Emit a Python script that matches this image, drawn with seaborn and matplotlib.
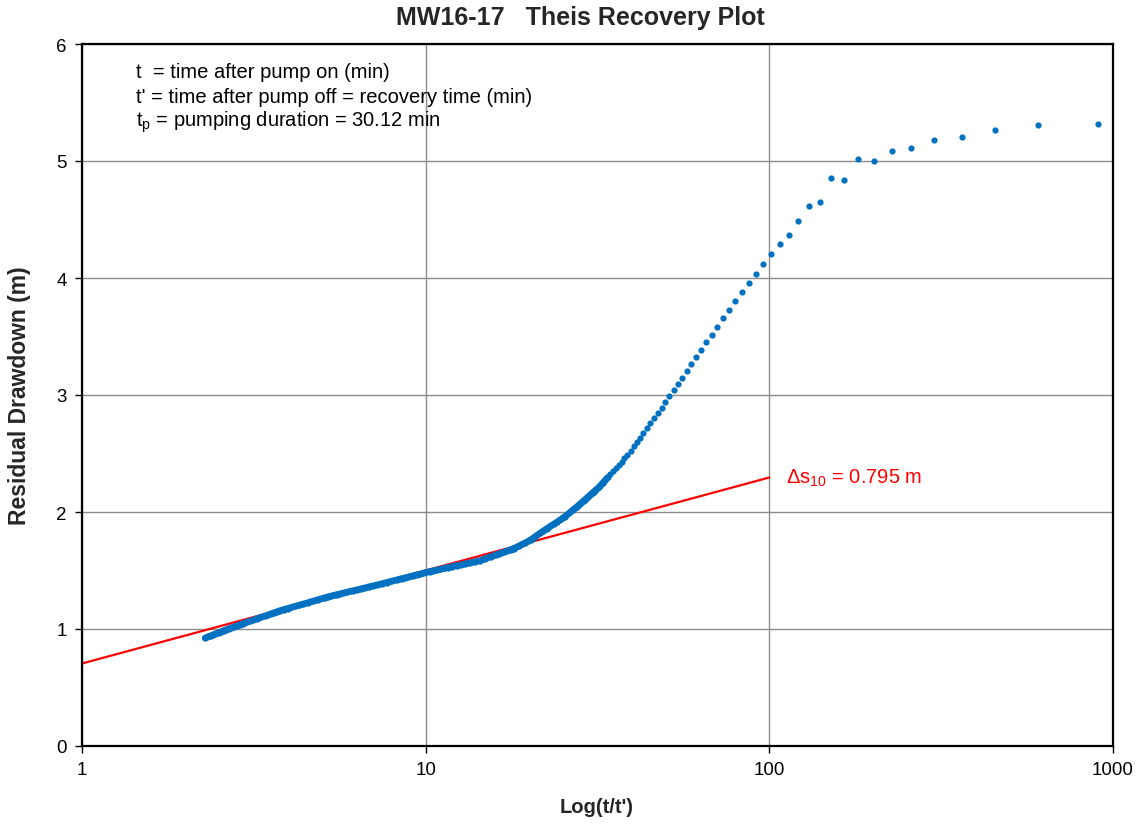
import numpy as np
import pandas as pd
import matplotlib
matplotlib.use("Agg")
import matplotlib.pyplot as plt
import seaborn as sns
from matplotlib.ticker import FixedLocator, NullLocator, FuncFormatter

# Pumping test MW16-17: pump ran for 30.12 min, then recovery was logged.
pumping_min = 30.12

# Recovery time after pump off (s)
recovery_s = [
    2, 3, 4, 5, 6, 7, 8, 9, 10, 11, 12, 13, 14, 15, 16, 17,
    18, 19, 20, 21, 22, 23, 24, 25, 26, 27, 28, 29, 30, 31, 32, 33,
    34, 35, 36, 37, 38, 39, 40, 41, 42, 43, 44, 45, 46, 47, 48, 49,
    50, 51, 52, 53, 54, 55, 56, 57, 58, 59, 60, 61, 62, 63, 64, 65,
    66, 67, 68, 69, 70,
    72, 74, 76, 78, 80, 82, 84, 86, 88, 90, 92, 94, 96, 98, 100,
    102, 104, 106, 108, 110, 112, 114, 116, 118, 120,
    125, 130, 135, 140, 145, 150, 155, 160, 165, 170, 175, 180, 185,
    190, 195, 200, 205, 210, 215, 220, 225, 230, 235, 240, 245, 250,
    260, 270, 280, 290, 300, 310, 320, 330, 340, 350, 360, 370, 380,
    390, 400, 410, 420, 430, 440, 450,
    470, 490, 510, 530, 550, 570, 590, 610, 630, 650, 670, 690, 710,
    730, 750,
    780, 810, 840, 870, 900, 930, 960, 990, 1020, 1050, 1080, 1110,
    1140, 1170, 1200, 1230, 1260, 1290, 1320, 1350, 1380, 1410,
]

# Residual drawdown (m)
drawdown_m = [
    5.319, 5.305, 5.268, 5.205, 5.182, 5.109, 5.088, 5.000, 5.017, 4.838,
    4.857, 4.647, 4.615, 4.490, 4.370, 4.291,
    4.205, 4.120, 4.037, 3.957, 3.877, 3.801, 3.726, 3.655, 3.584, 3.515,
    3.450, 3.387, 3.325, 3.262, 3.205, 3.148,
    3.094, 3.040, 2.991, 2.937, 2.892, 2.846, 2.803, 2.761, 2.718, 2.675,
    2.636, 2.598, 2.560, 2.524, 2.490, 2.458,
    2.428, 2.401, 2.374, 2.348, 2.321, 2.295, 2.270, 2.245, 2.221, 2.201,
    2.183, 2.165, 2.147, 2.129, 2.112, 2.095,
    2.078, 2.062, 2.046, 2.031, 2.017,
    1.988, 1.961, 1.937, 1.916, 1.896, 1.877, 1.857, 1.838, 1.819, 1.800,
    1.781, 1.763, 1.748, 1.735, 1.723,
    1.711, 1.699, 1.688, 1.679, 1.671, 1.663, 1.656, 1.649, 1.641, 1.634,
    1.617, 1.601, 1.584, 1.575, 1.566, 1.557, 1.549, 1.541, 1.533, 1.525,
    1.518, 1.510, 1.503,
    1.497, 1.490, 1.484, 1.476, 1.469, 1.463, 1.456, 1.449, 1.443, 1.437,
    1.431, 1.425, 1.419,
    1.408, 1.397, 1.387, 1.377, 1.368, 1.360, 1.351, 1.343, 1.335, 1.328,
    1.321, 1.314, 1.307,
    1.300, 1.294, 1.288, 1.282, 1.275, 1.268, 1.262,
    1.249, 1.237, 1.225, 1.214, 1.204, 1.194, 1.184, 1.175, 1.166, 1.158,
    1.148, 1.139, 1.129,
    1.120, 1.112,
    1.100, 1.088, 1.076, 1.066, 1.056, 1.046, 1.037, 1.028, 1.019, 1.011,
    1.003, 0.994,
    0.986, 0.978, 0.970, 0.963, 0.956, 0.949, 0.942, 0.936, 0.930, 0.923,
]

# Straight-line fit of the late recovery data
fit_intercept_m = 0.705
delta_s10_m = 0.795
fit_ratio = [1, 100]

x_ticks = [1, 10, 100, 1000]
y_ticks = [0, 1, 2, 3, 4, 5, 6]

BLUE = "#0070C0"
RED = "#FF0000"
GRID = "#8C8C8C"

df = pd.DataFrame({"t_rec_s": recovery_s, "s": drawdown_m})
df["ratio"] = (pumping_min * 60.0 + df["t_rec_s"]) / df["t_rec_s"]
dense = df[df["t_rec_s"] >= 55]

fit = pd.DataFrame({"ratio": fit_ratio})
fit["s"] = fit_intercept_m + delta_s10_m * np.log10(fit["ratio"])

sns.set_theme(style="whitegrid")
plt.rcParams["font.family"] = ["Liberation Sans", "DejaVu Sans"]
plt.rcParams["mathtext.fontset"] = "custom"
plt.rcParams["mathtext.rm"] = "Liberation Sans"

W, H = 1143, 829
fig = plt.figure(figsize=(W / 100, H / 100), dpi=100)
ax = fig.add_axes([82 / W, (H - 747) / H, (1113 - 82) / W, (747 - 45) / H])
ax.set_facecolor("white")
ax.set_xscale("log")

# fitted line sits beneath the measurements
sns.lineplot(data=fit, x="ratio", y="s", ax=ax, color=RED, linewidth=1.6,
             zorder=2)
# closely spaced late-time readings merge into a continuous band
sns.lineplot(data=dense, x="ratio", y="s", ax=ax, color=BLUE, linewidth=4.8,
             sort=False, estimator=None, zorder=3,
             solid_capstyle="round", solid_joinstyle="round")
sns.scatterplot(data=df, x="ratio", y="s", ax=ax, color=BLUE, s=20,
                linewidth=0, zorder=4)

ax.set_xlim(1, 1000)
ax.set_ylim(0, 6)
ax.xaxis.set_major_locator(FixedLocator(x_ticks))
ax.xaxis.set_minor_locator(NullLocator())
ax.xaxis.set_major_formatter(FuncFormatter(lambda v, p: f"{v:g}"))
ax.yaxis.set_major_locator(FixedLocator(y_ticks))
ax.yaxis.set_major_formatter(FuncFormatter(lambda v, p: f"{v:g}"))

ax.grid(True, which="major", color=GRID, linewidth=1.0)
ax.grid(False, which="minor")
for sp in ax.spines.values():
    sp.set_color("black")
    sp.set_linewidth(1.6)
ax.tick_params(axis="both", which="major", direction="out", length=5,
               width=1.0, color="black", labelsize=13.5, labelcolor="black",
               left=True, bottom=True, pad=6)

ax.set_xlabel("")
ax.set_ylabel("")
fig.text(597 / W, 1 - 808 / H, "Log(t/t')", ha="center", va="center",
         fontsize=14.5, fontweight="bold")
fig.text(20 / W, 1 - 396 / H, "Residual Drawdown (m)", ha="center",
         va="center", rotation=90, fontsize=16.5, fontweight="bold")
fig.text(580 / W, 1 - 18 / H, "MW16-17   Theis Recovery Plot", ha="center",
         va="center", fontsize=18, fontweight="bold")

notes = [
    "t  = time after pump on (min)",
    "t' = time after pump off = recovery time (min)",
    "t$_\\mathregular{p}$ = pumping duration = 30.12 min",
]
for i, line in enumerate(notes):
    ax.text(0.0524, (747 - 73 - 24.5 * i) / 702, line, transform=ax.transAxes,
            ha="left", va="center", fontsize=14.5, color="black")

ax.text(112, fit["s"].iloc[-1],
        "\u0394s$_\\mathregular{10}$ = " + f"{delta_s10_m:.3f} m",
        ha="left", va="center", fontsize=14.5, color=RED)

fig.savefig("out.png", dpi=100, facecolor="white")
